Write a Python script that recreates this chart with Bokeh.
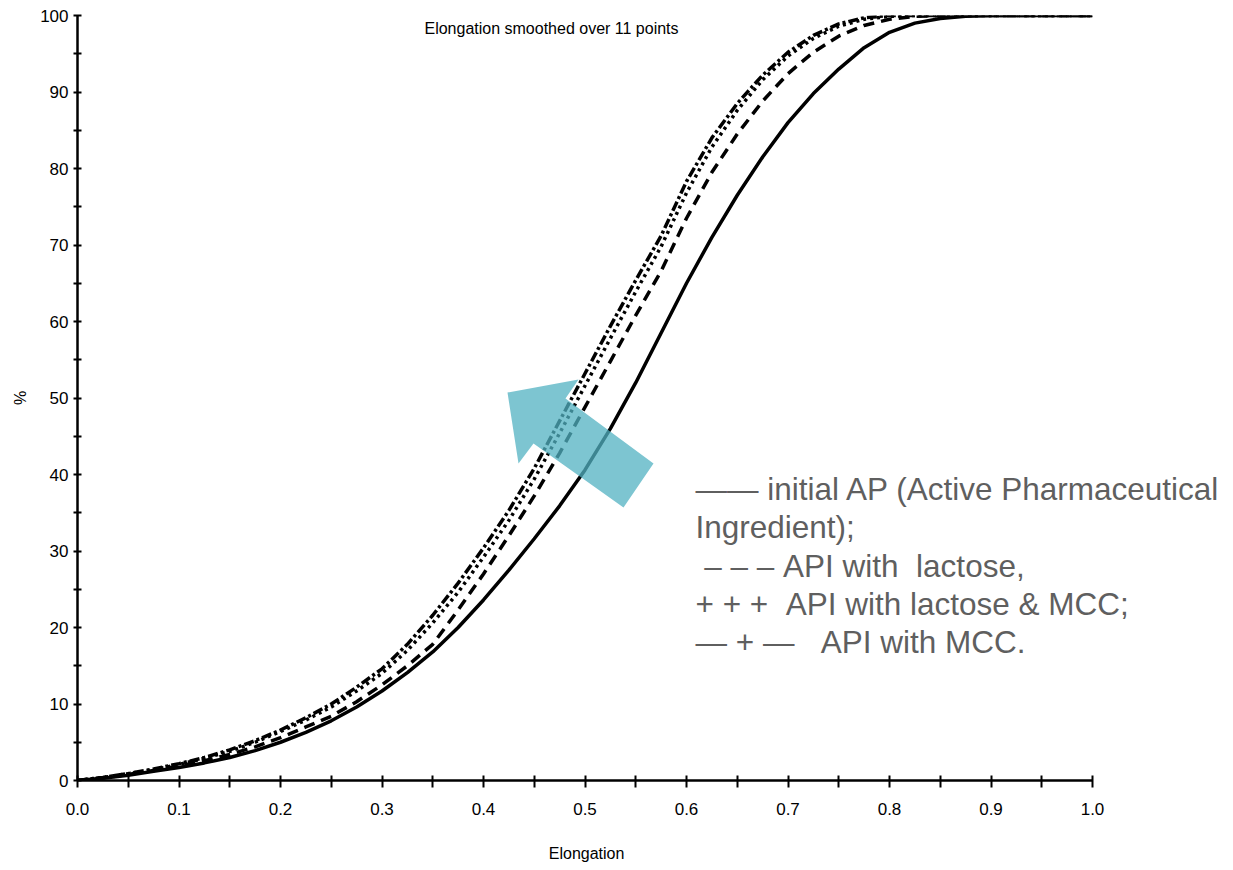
from bokeh.plotting import figure
from bokeh.models import Range1d, FixedTicker, PrintfTickFormatter, Label
from bokeh.embed import file_html
from bokeh.resources import INLINE

# ---------------- data ----------------
elongation = [0.000, 0.025, 0.050, 0.075, 0.100, 0.125, 0.150, 0.175, 0.200, 0.225,
              0.250, 0.275, 0.300, 0.325, 0.350, 0.375, 0.400, 0.425, 0.450, 0.475,
              0.500, 0.525, 0.550, 0.575, 0.600, 0.625, 0.650, 0.675, 0.700, 0.725,
              0.750, 0.775, 0.800, 0.825, 0.850, 0.875, 0.900, 0.950, 1.000]

pct_initial_api = [0.0, 0.3, 0.7, 1.2, 1.7, 2.3, 3.0, 3.9, 5.0, 6.3,
                   7.8, 9.6, 11.7, 14.1, 16.8, 20.0, 23.6, 27.5, 31.6, 35.9,
                   40.6, 46.0, 52.0, 58.5, 65.0, 71.0, 76.5, 81.5, 86.0, 89.8,
                   93.0, 95.8, 97.8, 99.0, 99.6, 99.9, 100.0, 100.0, 100.0]

pct_lactose = [0.0, 0.35, 0.8, 1.3, 1.9, 2.6, 3.4, 4.4, 5.6, 7.0,
               8.4, 10.3, 12.5, 15.0, 17.8, 22.3, 27.0, 32.0, 37.2, 42.8,
               48.8, 54.8, 60.8, 66.6, 73.5, 79.5, 84.5, 88.8, 92.4, 95.2,
               97.3, 98.7, 99.5, 99.9, 100.0, 100.0, 100.0, 100.0, 100.0]

pct_lactose_mcc = [0.0, 0.4, 0.9, 1.4, 2.1, 2.9, 3.8, 5.0, 6.4, 7.9,
                   9.6, 11.7, 14.0, 17.0, 20.6, 24.6, 29.2, 34.0, 39.4, 45.4,
                   51.6, 57.8, 63.9, 69.8, 76.8, 82.8, 87.6, 91.6, 94.7, 97.0,
                   98.6, 99.5, 99.9, 100.0, 100.0, 100.0, 100.0, 100.0, 100.0]

pct_mcc = [0.0, 0.4, 0.9, 1.5, 2.2, 3.0, 4.0, 5.2, 6.6, 8.2,
           10.0, 12.2, 14.6, 17.8, 21.6, 25.8, 30.4, 35.3, 40.8, 47.0,
           53.2, 59.4, 65.4, 71.2, 78.3, 84.0, 88.5, 92.2, 95.2, 97.4,
           98.9, 99.7, 100.0, 100.0, 100.0, 100.0, 100.0, 100.0, 100.0]

x_ticks = [0.0, 0.1, 0.2, 0.3, 0.4, 0.5, 0.6, 0.7, 0.8, 0.9, 1.0]
x_minor = [0.05, 0.15, 0.25, 0.35, 0.45, 0.55, 0.65, 0.75, 0.85, 0.95]
y_ticks = [0, 10, 20, 30, 40, 50, 60, 70, 80, 90, 100]
y_minor = [5, 15, 25, 35, 45, 55, 65, 75, 85, 95]

title_text = "Elongation smoothed over 11 points"
x_label = "Elongation"
y_label = "%"
NB = "\u00a0"
legend_lines = [
    "\u2014\u2014" + NB + "initial AP (Active Pharmaceutical",
    "Ingredient);",
    NB + "\u2013" + NB + "\u2013" + NB + "\u2013" + NB + "API with" + NB + NB + "lactose,",
    "+" + NB + "+" + NB + "+" + NB + NB + "API with lactose & MCC;",
    "\u2014" + NB + "+" + NB + "\u2014" + NB + NB + NB + "API with MCC.",
]

# ---------------- layout helpers (page pixels -> data) ----------------
W, H = 1233, 870
FR_L, FR_T, FR_B = 77, 15, 780
PX_PER_X = 1015.0          # pixels between elongation 0 and 1
def dx(px):
    return (px - FR_L) / PX_PER_X
def dy(py):
    return (FR_B - py) / (FR_B - FR_T) * 100.0

p = figure(width=W, height=H, output_backend="svg", toolbar_location=None,
           x_range=Range1d(0, (W - FR_L) / PX_PER_X), y_range=Range1d(0, 100),
           min_border_left=FR_L, min_border_right=0,
           min_border_top=FR_T, min_border_bottom=H - FR_B)
p.outline_line_color = None
p.xgrid.visible = False
p.ygrid.visible = False
p.background_fill_color = "white"
p.border_fill_color = "white"

tick_font = "'Liberation Sans Narrow', 'Liberation Sans', sans-serif"

p.xaxis.ticker = FixedTicker(ticks=x_ticks, minor_ticks=x_minor)
p.xaxis.formatter = PrintfTickFormatter(format="%.1f")
p.xaxis.bounds = (0, 1)
p.yaxis.ticker = FixedTicker(ticks=y_ticks, minor_ticks=y_minor)
p.yaxis.formatter = PrintfTickFormatter(format="%d")

for ax in (p.xaxis[0], p.yaxis[0]):
    ax.axis_line_width = 2.5
    ax.axis_line_color = "black"
    ax.major_tick_line_width = 2
    ax.minor_tick_line_width = 2
    ax.major_tick_line_color = "black"
    ax.minor_tick_line_color = "black"
    ax.major_label_text_font = tick_font
    ax.major_label_text_font_size = "17px"
    ax.major_label_text_color = "black"
    ax.axis_label_text_font = tick_font
    ax.axis_label_text_font_size = "16px"
    ax.axis_label_text_font_style = "normal"
    ax.axis_label_text_color = "black"

p.xaxis.major_tick_in = 5
p.xaxis.major_tick_out = 7
p.xaxis.minor_tick_in = 5
p.xaxis.minor_tick_out = 7
p.xaxis.major_label_standoff = 15
# trailing no-break spaces shift the centred label left, under the 0..1 axis span
p.xaxis.axis_label = x_label + NB * 31
p.xaxis.axis_label_standoff = 27

p.yaxis.major_tick_in = 4
p.yaxis.major_tick_out = 4
p.yaxis.minor_tick_in = 4
p.yaxis.minor_tick_out = 4
p.yaxis.major_label_standoff = 5
p.yaxis.axis_label = y_label
p.yaxis.axis_label_standoff = 8

# ---------------- curves ----------------
p.line(elongation, pct_initial_api, line_color="black", line_width=3.5)
p.line(elongation, pct_lactose, line_color="black", line_width=3.5, line_dash="11 7")
p.line(elongation, pct_lactose_mcc, line_color="black", line_width=3.5, line_dash="3 4")
p.line(elongation, pct_mcc, line_color="black", line_width=3.5, line_dash="10 3 3 3")

# ---------------- arrow (annotation) ----------------
arrow_px_x = [507, 578, 565, 653, 623, 533, 518]
arrow_px_y = [392, 379, 398, 463, 507, 443, 463]
p.patch([dx(v) for v in arrow_px_x], [dy(v) for v in arrow_px_y],
        fill_color="#51B1C1", fill_alpha=0.75, line_color=None)

# ---------------- texts ----------------
p.add_layout(Label(x=dx(551), y=dy(28), text=title_text, text_align="center",
                   text_baseline="middle", text_font=tick_font,
                   text_font_size="16px", text_color="black"))

baselines = [488, 526, 565, 603, 641]
for line_text, b in zip(legend_lines, baselines):
    p.add_layout(Label(x=dx(695), y=dy(b), text=line_text, text_align="left",
                       text_baseline="alphabetic", text_font="Liberation Sans",
                       text_font_size="31.5px", text_color="#5f5f5f"))

open("out.html", "w").write(file_html(p, INLINE))
